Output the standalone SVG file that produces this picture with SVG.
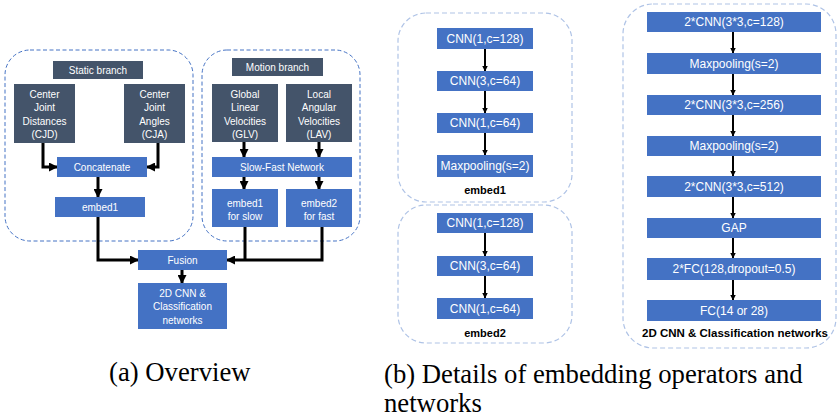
<svg xmlns="http://www.w3.org/2000/svg" width="839" height="418" viewBox="0 0 839 418">
<defs>
<style>
.dark{fill:#44546A}
.blue{fill:#4472C4}
.lc{fill:none;stroke:#4472C4;stroke-width:1;stroke-dasharray:4 2.5}
.rc{fill:none;stroke:#AFC3E6;stroke-width:1.2;stroke-dasharray:5 3}
.t{font-family:"Liberation Sans",Arial,sans-serif;font-size:10px;fill:#fff;text-anchor:middle}
.t2{font-family:"Liberation Sans",Arial,sans-serif;font-size:12px;fill:#fff;text-anchor:middle}
.lb{font-family:"Liberation Sans",Arial,sans-serif;font-size:11px;font-weight:bold;fill:#000;text-anchor:middle}
.cap{font-family:"Liberation Serif","Times New Roman",serif;font-size:26.7px;fill:#000}
.ka{fill:none;stroke:#000;stroke-width:3;marker-end:url(#ah)}
.kn{fill:none;stroke:#000;stroke-width:3}
.ks{fill:none;stroke:#000;stroke-width:2;marker-end:url(#as)}
</style>
<marker id="ah" markerUnits="userSpaceOnUse" markerWidth="9" markerHeight="9" refX="8" refY="4.5" orient="auto">
<path d="M0,0 L9,4.5 L0,9 Z" fill="#000"/>
</marker>
<marker id="as" markerUnits="userSpaceOnUse" markerWidth="6" markerHeight="6" refX="5.5" refY="3" orient="auto">
<path d="M0,0 L6,3 L0,6 Z" fill="#000"/>
</marker>
</defs>
<rect width="839" height="418" fill="#fff"/>

<g id="containers">
<rect id="static-branch-box" class="lc" x="5" y="50" width="188" height="191" rx="25"/>
<rect id="motion-branch-box" class="lc" x="202" y="50" width="158" height="191" rx="25"/>
<rect id="embed1-box" class="rc" x="398" y="13" width="174" height="189" rx="28"/>
<rect id="embed2-box" class="rc" x="398" y="205" width="174" height="138" rx="28"/>
<rect id="cnn-box" class="rc" x="623" y="4" width="213" height="344" rx="30"/>
</g>

<g id="connectors">
<path class="ka" d="M43,143 V167 H57"/>
<path class="ka" d="M158,143 V167 H147"/>
<path class="ka" d="M98,177 V197"/>
<path class="ka" d="M244,142 V157"/>
<path class="ka" d="M319,142 V157"/>
<path class="ka" d="M244,177 V189"/>
<path class="ka" d="M319,177 V189"/>
<path class="ka" d="M98,217 V260 H138"/>
<path class="ka" d="M322,227 V260 H227"/>
<path class="kn" d="M245,227 V260"/>
<path class="ka" d="M182,270 V283"/>
<path class="ks" d="M485,49 V71"/>
<path class="ks" d="M485,91 V113"/>
<path class="ks" d="M485,133 V155"/>
<path class="ks" d="M485,233 V256"/>
<path class="ks" d="M485,276 V298"/>
<path class="ks" d="M733,32 V53"/>
<path class="ks" d="M733,74 V95"/>
<path class="ks" d="M733,115 V136"/>
<path class="ks" d="M733,156 V176"/>
<path class="ks" d="M733,197 V218"/>
<path class="ks" d="M733,238 V258"/>
<path class="ks" d="M733,280 V300"/>
</g>

<g id="static-branch"><rect class="dark" x="53" y="61" width="90" height="18"/><text class="t" x="98" y="73.5">Static branch</text></g>
<g id="cjd"><rect class="dark" x="14" y="84" width="61" height="59"/><text class="t" x="44.5" y="97.5">Center</text><text class="t" x="44.5" y="111">Joint</text><text class="t" x="44.5" y="124.5">Distances</text><text class="t" x="44.5" y="138">(CJD)</text></g>
<g id="cja"><rect class="dark" x="124" y="84" width="61" height="59"/><text class="t" x="154.5" y="97.5">Center</text><text class="t" x="154.5" y="111">Joint</text><text class="t" x="154.5" y="124.5">Angles</text><text class="t" x="154.5" y="138">(CJA)</text></g>
<g id="concatenate"><rect class="blue" x="57" y="157" width="90" height="20"/><text class="t" x="102" y="170.5">Concatenate</text></g>
<g id="embed1-static"><rect class="blue" x="55" y="197" width="90" height="20"/><text class="t" x="100" y="210.5">embed1</text></g>

<g id="motion-branch"><rect class="dark" x="232" y="58" width="91" height="18"/><text class="t" x="277.5" y="70.5">Motion branch</text></g>
<g id="glv"><rect class="dark" x="212" y="84" width="66" height="58"/><text class="t" x="245" y="97.5">Global</text><text class="t" x="245" y="111">Linear</text><text class="t" x="245" y="124.5">Velocities</text><text class="t" x="245" y="138">(GLV)</text></g>
<g id="lav"><rect class="dark" x="286" y="84" width="66" height="58"/><text class="t" x="319" y="97.5">Local</text><text class="t" x="319" y="111">Angular</text><text class="t" x="319" y="124.5">Velocities</text><text class="t" x="319" y="138">(LAV)</text></g>
<g id="slow-fast"><rect class="blue" x="212" y="157" width="140" height="20"/><text class="t" x="282" y="170.5">Slow-Fast Network</text></g>
<g id="embed1-slow"><rect class="blue" x="212" y="189" width="66" height="38"/><text class="t" x="245" y="206.5">embed1</text><text class="t" x="245" y="219.5">for slow</text></g>
<g id="embed2-fast"><rect class="blue" x="286" y="189" width="66" height="38"/><text class="t" x="319" y="206.5">embed2</text><text class="t" x="319" y="219.5">for fast</text></g>
<g id="fusion"><rect class="blue" x="138" y="250" width="89" height="20"/><text class="t" x="182.5" y="263.5">Fusion</text></g>
<g id="cnn-cls"><rect class="blue" x="138" y="283" width="89" height="46"/><text class="t" x="182.5" y="296.5">2D CNN &amp;</text><text class="t" x="182.5" y="310">Classification</text><text class="t" x="182.5" y="323.5">networks</text></g>

<g id="e1-cnn1"><rect class="blue" x="437" y="28" width="96" height="21"/><text class="t2" x="485" y="42.8">CNN(1,c=128)</text></g>
<g id="e1-cnn2"><rect class="blue" x="437" y="71" width="96" height="20"/><text class="t2" x="485" y="85.3">CNN(3,c=64)</text></g>
<g id="e1-cnn3"><rect class="blue" x="437" y="113" width="96" height="20"/><text class="t2" x="485" y="127.3">CNN(1,c=64)</text></g>
<g id="e1-pool"><rect class="blue" x="437" y="155" width="96" height="22"/><text class="t2" x="485" y="170.3">Maxpooling(s=2)</text></g>
<g id="embed1-label"><text class="lb" x="485" y="194">embed1</text></g>

<g id="e2-cnn1"><rect class="blue" x="437" y="213" width="96" height="20"/><text class="t2" x="485" y="227.3">CNN(1,c=128)</text></g>
<g id="e2-cnn2"><rect class="blue" x="437" y="256" width="96" height="20"/><text class="t2" x="485" y="270.3">CNN(3,c=64)</text></g>
<g id="e2-cnn3"><rect class="blue" x="437" y="298" width="96" height="21"/><text class="t2" x="485" y="312.8">CNN(1,c=64)</text></g>
<g id="embed2-label"><text class="lb" x="485" y="337">embed2</text></g>

<g id="n-cnn128"><rect class="blue" x="647" y="12" width="174" height="20"/><text class="t2" x="734" y="26.3">2*CNN(3*3,c=128)</text></g>
<g id="n-pool1"><rect class="blue" x="647" y="53" width="174" height="21"/><text class="t2" x="734" y="67.8">Maxpooling(s=2)</text></g>
<g id="n-cnn256"><rect class="blue" x="647" y="95" width="174" height="20"/><text class="t2" x="734" y="109.3">2*CNN(3*3,c=256)</text></g>
<g id="n-pool2"><rect class="blue" x="647" y="136" width="174" height="20"/><text class="t2" x="734" y="150.3">Maxpooling(s=2)</text></g>
<g id="n-cnn512"><rect class="blue" x="647" y="176" width="174" height="21"/><text class="t2" x="734" y="190.8">2*CNN(3*3,c=512)</text></g>
<g id="n-gap"><rect class="blue" x="647" y="218" width="174" height="20"/><text class="t2" x="734" y="232.3">GAP</text></g>
<g id="n-fc"><rect class="blue" x="647" y="258" width="174" height="22"/><text class="t2" x="734" y="273.3">2*FC(128,dropout=0.5)</text></g>
<g id="n-fc2"><rect class="blue" x="647" y="300" width="174" height="21"/><text class="t2" x="734" y="314.8">FC(14 or 28)</text></g>
<g id="cnn-label"><text class="lb" x="735" y="337" style="font-size:11.5px">2D CNN &amp; Classification networks</text></g>

<g id="captions">
<text class="cap" x="109" y="381">(a) Overview</text>
<text class="cap" x="384" y="383">(b) Details of embedding operators and</text>
<text class="cap" x="384" y="412">networks</text>
</g>
</svg>
